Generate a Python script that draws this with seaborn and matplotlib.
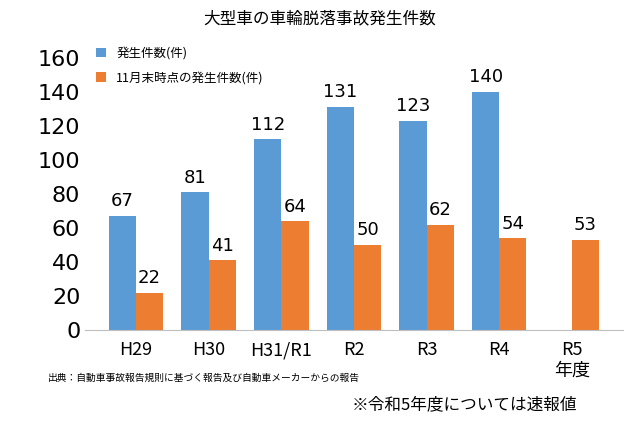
import matplotlib
matplotlib.use("Agg")
import matplotlib.pyplot as plt
import seaborn as sns
import pandas as pd
import numpy as np

plt.rcParams["font.family"] = "Noto Sans CJK JP"

categories = ["H29", "H30", "H31/R1", "R2", "R3", "R4", "R5\n年度"]
total = [67, 81, 112, 131, 123, 140, np.nan]
november = [22, 41, 64, 50, 62, 54, 53]
series = ["発生件数(件)", "11月末時点の発生件数(件)"]
yticks = [0, 20, 40, 60, 80, 100, 120, 140, 160]

df = pd.DataFrame({
    "cat": categories * 2,
    "val": total + november,
    "series": [series[0]] * 7 + [series[1]] * 7,
})

fig = plt.figure(figsize=(6.4, 4.26), dpi=100)
ax = fig.add_axes([0.133, 0.225, 0.84, 0.64])
sns.barplot(data=df, x="cat", y="val", hue="series", palette=["#5B9BD5", "#ED7D31"],
            width=0.75, saturation=1, ax=ax)
for c in ax.containers:
    labels = ["" if np.isnan(v) else f"{int(v)}" for v in c.datavalues]
    ax.bar_label(c, labels=labels, padding=4, fontsize=13, fontfamily="DejaVu Sans")
ax.set_ylim(0, 160)
ax.set_xlim(-0.7, 6.7)
ax.set_yticks(yticks)
ax.set_yticklabels([str(t) for t in yticks], fontsize=16, fontfamily="DejaVu Sans")
ax.tick_params(axis="x", labelsize=13, length=0, pad=8)
ax.tick_params(axis="y", length=0)
ax.set_xlabel("")
ax.set_ylabel("")
for s in ["top", "right", "left"]:
    ax.spines[s].set_visible(False)
ax.spines["bottom"].set_color("#bfbfbf")
ax.legend(loc="upper left", bbox_to_anchor=(0.0, 1.08), frameon=False, fontsize=9,
          handlelength=0.8, handleheight=0.8, labelspacing=0.9)
fig.text(0.5, 0.955, "大型車の車輪脱落事故発生件数", ha="center", va="center", fontsize=12)
fig.text(0.075, 0.105, "出典：自動車事故報告規則に基づく報告及び自動車メーカーからの報告", fontsize=7)
fig.text(0.55, 0.04, "※令和5年度については速報値", fontsize=12)
fig.savefig("out.png")
